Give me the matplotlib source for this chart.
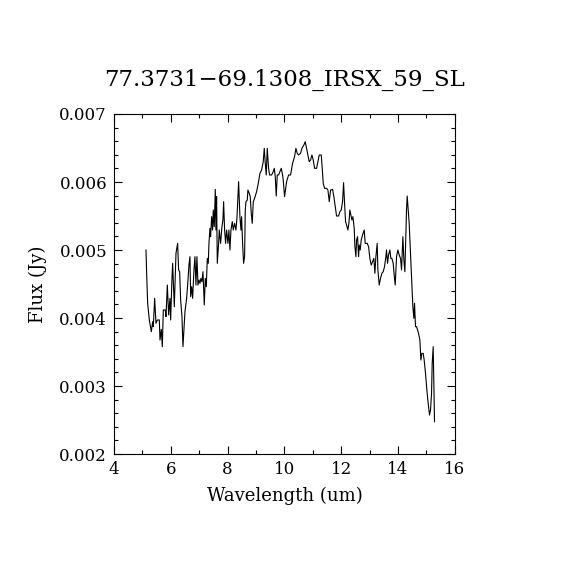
"""
plot.py  —  IRS SL spectrum of 77.3731-69.1308 (IRSX 59)
"""

import matplotlib
matplotlib.use("Agg")
import matplotlib.pyplot as plt
from matplotlib.ticker import MultipleLocator, FormatStrFormatter

TITLE = "77.3731\u221269.1308_IRSX_59_SL"

# wavelength (um)
wave = [
    5.126, 5.149, 5.185, 5.243, 5.314, 5.361, 5.384, 5.431, 5.478, 5.525,
    5.595, 5.619, 5.665, 5.701, 5.736, 5.806, 5.830, 5.877, 5.924, 5.970,
    5.994, 6.041, 6.064, 6.123, 6.158, 6.182, 6.240, 6.275, 6.311, 6.346,
    6.393, 6.428, 6.463, 6.498, 6.557, 6.592, 6.639, 6.674, 6.698, 6.733,
    6.768, 6.815, 6.850, 6.885, 6.920, 6.956, 6.991, 7.026, 7.061, 7.096,
    7.132, 7.178, 7.214, 7.249, 7.284, 7.319, 7.343, 7.378, 7.401, 7.437,
    7.472, 7.495, 7.530, 7.566, 7.589, 7.612, 7.636, 7.683, 7.706, 7.753,
    7.800, 7.835, 7.859, 7.894, 7.929, 7.964, 8.011, 8.046, 8.082, 8.117,
    8.164, 8.199, 8.246, 8.293, 8.328, 8.351, 8.387, 8.433, 8.469, 8.492,
    8.527, 8.562, 8.598, 8.621, 8.645, 8.692, 8.715, 8.762, 8.797, 8.832,
    8.867, 8.903, 8.950, 9.020, 9.079, 9.137, 9.196, 9.254, 9.290, 9.325,
    9.360, 9.395, 9.442, 9.477, 9.548, 9.606, 9.642, 9.677, 9.712, 9.747,
    9.794, 9.841, 9.888, 9.935, 9.958, 10.005, 10.076, 10.146, 10.216, 10.287,
    10.357, 10.404, 10.451, 10.498, 10.568, 10.615, 10.685, 10.732, 10.779, 10.826,
    10.873, 10.920, 10.967, 11.014, 11.061, 11.132, 11.179, 11.225, 11.296, 11.331,
    11.366, 11.413, 11.484, 11.531, 11.578, 11.625, 11.695, 11.741, 11.788, 11.835,
    11.906, 11.953, 12.000, 12.046, 12.082, 12.117, 12.152, 12.187, 12.234, 12.269,
    12.304, 12.340, 12.375, 12.410, 12.457, 12.481, 12.516, 12.539, 12.574, 12.610,
    12.633, 12.668, 12.703, 12.750, 12.809, 12.844, 12.915, 12.962, 13.008, 13.055,
    13.102, 13.149, 13.184, 13.220, 13.266, 13.290, 13.337, 13.383, 13.430, 13.477,
    13.524, 13.571, 13.594, 13.630, 13.665, 13.712, 13.747, 13.782, 13.829, 13.864,
    13.900, 13.947, 13.994, 14.041, 14.087, 14.123, 14.170, 14.205, 14.240, 14.264,
    14.298, 14.322, 14.357, 14.392, 14.439, 14.486, 14.521, 14.556, 14.580, 14.615,
    14.650, 14.686, 14.721, 14.768, 14.803, 14.838, 14.885, 14.920, 14.967, 15.014,
    15.061, 15.108, 15.143, 15.179, 15.202, 15.237, 15.261, 15.284,
]

# flux (Jy)
flux = [
    0.005000, 0.004657, 0.004216, 0.003971, 0.003799, 0.003946, 0.003873, 0.004289, 0.003922, 0.003971,
    0.003971, 0.003676, 0.003833, 0.003578, 0.004118, 0.004118, 0.004020, 0.004485, 0.004044, 0.004289,
    0.003971, 0.004583, 0.004804, 0.004167, 0.004608, 0.004951, 0.005098, 0.004706, 0.004681, 0.004265,
    0.004020, 0.003578, 0.003824, 0.004093, 0.004289, 0.004485, 0.004779, 0.004902, 0.004314, 0.004461,
    0.004289, 0.004706, 0.004902, 0.004485, 0.004902, 0.004485, 0.004559, 0.004510, 0.004583, 0.004534,
    0.004681, 0.004191, 0.004583, 0.004461, 0.004877, 0.004804, 0.005098, 0.005319, 0.005196, 0.005490,
    0.005294, 0.005588, 0.005343, 0.005892, 0.005294, 0.005784, 0.004804, 0.005098, 0.005294, 0.005098,
    0.005343, 0.005441, 0.005711, 0.005294, 0.005098, 0.005294, 0.005098, 0.005294, 0.005000, 0.005294,
    0.005417, 0.005294, 0.005392, 0.005294, 0.005466, 0.005686, 0.006005, 0.005490, 0.005294, 0.005490,
    0.005098, 0.004804, 0.004902, 0.005588, 0.005711, 0.005735, 0.005882, 0.005833, 0.005784, 0.005539,
    0.005392, 0.005711, 0.005760, 0.005858, 0.005980, 0.006127, 0.006176, 0.006299, 0.006495, 0.006275,
    0.006103, 0.006495, 0.006201, 0.006103, 0.006103, 0.006152, 0.006201, 0.006078, 0.005794, 0.006103,
    0.006103, 0.006152, 0.006201, 0.006103, 0.006029, 0.005784, 0.006005, 0.006103, 0.006103, 0.006275,
    0.006373, 0.006495, 0.006422, 0.006397, 0.006422, 0.006495, 0.006544, 0.006593, 0.006495, 0.006397,
    0.006299, 0.006324, 0.006397, 0.006324, 0.006201, 0.006201, 0.006299, 0.006397, 0.006397, 0.006201,
    0.005980, 0.005907, 0.005907, 0.005882, 0.005711, 0.005882, 0.005892, 0.005784, 0.005637, 0.005500,
    0.005500, 0.005564, 0.005588, 0.005711, 0.005990, 0.005686, 0.005417, 0.005368, 0.005294, 0.005392,
    0.005588, 0.005515, 0.005441, 0.005490, 0.005319, 0.005049, 0.004902, 0.005147, 0.005196, 0.004902,
    0.005074, 0.005000, 0.005147, 0.005221, 0.005294, 0.005098, 0.005098, 0.005049, 0.004877, 0.004779,
    0.004828, 0.004877, 0.004657, 0.004902, 0.005098, 0.004706, 0.004485, 0.004583, 0.004657, 0.004681,
    0.004755, 0.004902, 0.005000, 0.004804, 0.004926, 0.005000, 0.004877, 0.004877, 0.004804, 0.004632,
    0.004485, 0.004902, 0.005000, 0.004926, 0.004877, 0.004706, 0.005196, 0.004853, 0.004681, 0.005049,
    0.005588, 0.005794, 0.005588, 0.005392, 0.004951, 0.004510, 0.004167, 0.003995, 0.004216, 0.003873,
    0.003873, 0.003824, 0.003775, 0.003676, 0.003382, 0.003480, 0.003480, 0.003382, 0.003186, 0.002941,
    0.002745, 0.002574, 0.002647, 0.002892, 0.003333, 0.003578, 0.003039, 0.002475,
]

plt.rcParams["font.family"] = ["DejaVu Serif"]

fig = plt.figure(figsize=(5.7, 5.7), dpi=100)
ax = fig.add_axes([0.2, 0.2035, 0.598, 0.5965])

ax.plot(wave, flux, color="black", linewidth=0.8)

ax.set_xlim(4, 16)
ax.set_ylim(0.002, 0.007)
ax.xaxis.set_major_locator(MultipleLocator(2))
ax.xaxis.set_minor_locator(MultipleLocator(1))
ax.yaxis.set_major_locator(MultipleLocator(0.001))
ax.yaxis.set_minor_locator(MultipleLocator(0.0002))
ax.yaxis.set_major_formatter(FormatStrFormatter("%.3f"))
ax.tick_params(which="both", direction="in", top=True, right=True, labelsize=12)
ax.tick_params(which="major", length=6, width=0.8, pad=5)
ax.tick_params(which="minor", length=3, width=0.8)
for s in ax.spines.values():
    s.set_linewidth(0.8)

ax.set_title(TITLE, fontsize=16.5, pad=20)
ax.set_xlabel("Wavelength (um)", fontsize=13, labelpad=6)
ax.set_ylabel("Flux (Jy)", fontsize=13, labelpad=9)

fig.savefig("out.png", dpi=100)
